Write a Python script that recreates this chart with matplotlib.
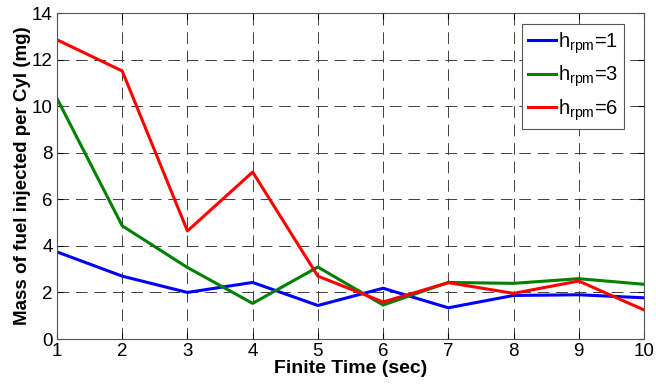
import numpy as np
import matplotlib
matplotlib.use("Agg")
import matplotlib.pyplot as plt

plt.rcParams['font.family'] = ['Liberation Sans', 'DejaVu Sans']
plt.rcParams['mathtext.fontset'] = 'custom'
plt.rcParams['mathtext.rm'] = 'Liberation Sans'
plt.rcParams['mathtext.it'] = 'Liberation Sans'

# data
time_sec = [1, 2, 3, 4, 5, 6, 7, 8, 9, 10]
h_rpm_1 = [3.74, 2.70, 2.00, 2.43, 1.44, 2.18, 1.34, 1.87, 1.90, 1.77]
h_rpm_3 = [10.33, 4.86, 3.07, 1.53, 3.09, 1.46, 2.43, 2.39, 2.59, 2.35]
h_rpm_6 = [12.85, 11.51, 4.64, 7.17, 2.70, 1.59, 2.42, 1.96, 2.49, 1.25]
series_labels = ['$\\mathregular{h_{rpm}}$=1', '$\\mathregular{h_{rpm}}$=3', '$\\mathregular{h_{rpm}}$=6']
series_colors = ['#0000ff', '#008000', '#ff0000']

fig = plt.figure(figsize=(6.56, 3.87), dpi=100)
ax = fig.add_axes([0.0869, 0.124, 0.8948, 0.8424])

for ys, lab, col in zip([h_rpm_1, h_rpm_3, h_rpm_6], series_labels, series_colors):
    ax.plot(time_sec, ys, color=col, lw=2.2, label=lab)

ax.set_xlim(1, 10)
ax.set_ylim(0, 14)
ax.set_xticks(time_sec)
ax.set_yticks(np.arange(0, 15, 2))
ax.grid(True, color='#404040', linestyle=(0, (12, 7)), lw=0.7)
ax.tick_params(direction='in', labelsize=13.5, length=4, top=True, right=True, pad=3)
for sp in ax.spines.values():
    sp.set_color('#555555')

ax.set_xlabel('Finite Time (sec)', fontsize=14, fontweight='bold', labelpad=0)
ax.set_ylabel('Mass of fuel injected per Cyl (mg)', fontsize=13.5, fontweight='bold', labelpad=1)

leg = ax.legend(loc='upper right', bbox_to_anchor=(0.966, 0.966), fontsize=14.5,
                handlelength=1.35, handletextpad=0.1, borderpad=0.3, labelspacing=0.4,
                fancybox=False, framealpha=1, edgecolor='#555555', borderaxespad=0)
leg.get_frame().set_linewidth(0.8)

fig.savefig('out.png', dpi=100)
